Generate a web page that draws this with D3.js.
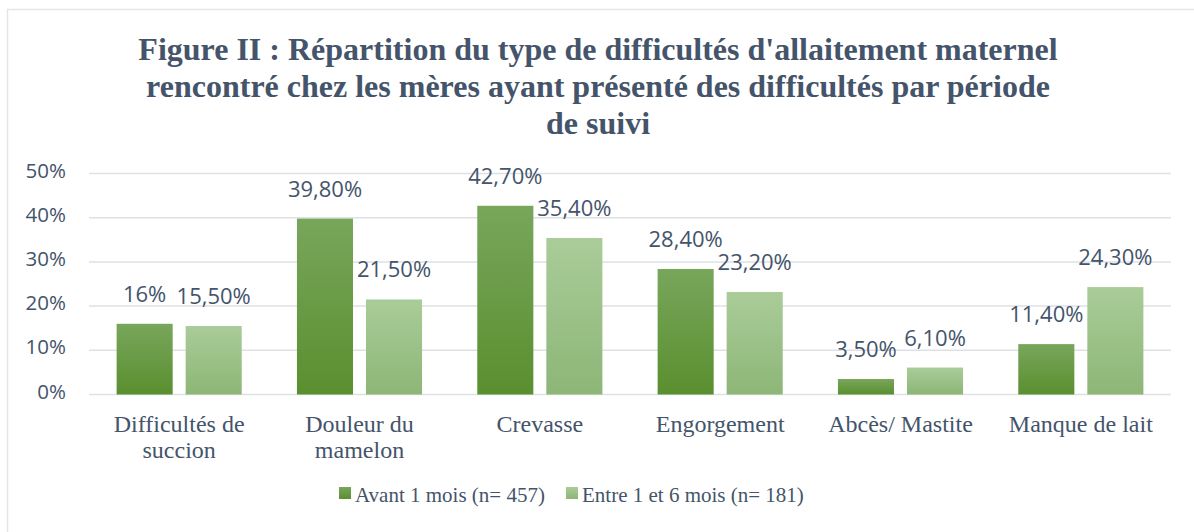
<!DOCTYPE html>
<html>
<head>
<meta charset="utf-8">
<script src="https://cdn.jsdelivr.net/npm/d3@7"></script>
<style>
  body { margin: 0; background: #fff; }
  svg { display: block; }
</style>
</head>
<body>
<svg id="chart"></svg>
<script>
// data
var categories = [["Difficultés de", "succion"], ["Douleur du", "mamelon"], ["Crevasse"], ["Engorgement"], ["Abcès/ Mastite"], ["Manque de lait"]]
var seriesNames = ["Avant 1 mois (n= 457)", "Entre 1 et 6 mois (n= 181)"]
var avant = [16, 39.8, 42.7, 28.4, 3.5, 11.4]
var entre = [15.5, 21.5, 35.4, 23.2, 6.1, 24.3]
var labelsAvant = ["16%", "39,80%", "42,70%", "28,40%", "3,50%", "11,40%"]
var labelsEntre = ["15,50%", "21,50%", "35,40%", "23,20%", "6,10%", "24,30%"]
var yTicks = [0, 10, 20, 30, 40, 50]
var titleLines = ["Figure II : Répartition du type de difficultés d'allaitement maternel",
  "rencontré chez les mères ayant présenté des difficultés par période",
  "de suivi"]

var W = 1194, H = 532
var textColor = "#44546a"
var gridColor = "#dde1e6"

var svg = d3.select("#chart").attr("width", W).attr("height", H)

// gradients per series
var defs = svg.append("defs")
var grads = [
  {id: "g0", top: "#78a65b", bottom: "#5a8f2f"},
  {id: "g1", top: "#aacc99", bottom: "#8db677"}
]
grads.forEach(function(g) {
  var lg = defs.append("linearGradient").attr("id", g.id)
    .attr("x1", 0).attr("y1", 0).attr("x2", 0).attr("y2", 1)
  lg.append("stop").attr("offset", "0%").attr("stop-color", g.top)
  lg.append("stop").attr("offset", "100%").attr("stop-color", g.bottom)
})

// frame
svg.append("rect")
  .attr("x", 7.5).attr("y", 9.5)
  .attr("width", W).attr("height", H)
  .attr("fill", "none")
  .attr("stroke", "#e2e5e9")
  .attr("stroke-width", 1.5)

// title
svg.append("g").selectAll("text")
  .data(titleLines)
  .join("text")
  .attr("x", 598)
  .attr("y", function(d, i) { return 60 + i * 37 })
  .attr("text-anchor", "middle")
  .attr("font-family", "'Liberation Serif', 'Times New Roman', serif")
  .attr("font-weight", "bold")
  .attr("font-size", "32px")
  .attr("fill", textColor)
  .text(function(d) { return d })

// scales
var y = d3.scaleLinear().domain([0, 50]).range([394.5, 173.5])
var x0 = d3.scaleBand().domain(d3.range(categories.length)).range([89, 1171])
var x1 = d3.scaleBand().domain([0, 1]).range([0, x0.bandwidth()])
  .paddingInner(0.188).paddingOuter(0.4)

// grid
svg.append("g").selectAll("line")
  .data(yTicks)
  .join("line")
  .attr("x1", 89).attr("x2", 1171)
  .attr("y1", function(d) { return y(d) })
  .attr("y2", function(d) { return y(d) })
  .attr("stroke", gridColor)
  .attr("stroke-width", 1.5)

// y tick labels
svg.append("g").selectAll("text")
  .data(yTicks)
  .join("text")
  .attr("x", 66)
  .attr("y", function(d) { return y(d) + 4 })
  .attr("text-anchor", "end")
  .attr("font-family", "'Open Sans', sans-serif")
  .attr("font-size", "20.5px")
  .attr("fill", textColor)
  .text(function(d) { return d + "%" })

// bars
var series = [
  {values: avant, labels: labelsAvant, grad: "url(#g0)"},
  {values: entre, labels: labelsEntre, grad: "url(#g1)"}
]

series.forEach(function(s, si) {
  var g = svg.append("g")
  g.selectAll("rect")
    .data(s.values)
    .join("rect")
    .attr("x", function(d, i) { return x0(i) + x1(si) })
    .attr("y", function(d) { return y(d) })
    .attr("width", x1.bandwidth())
    .attr("height", function(d) { return y(0) - y(d) })
    .attr("fill", s.grad)

  g.selectAll("text")
    .data(s.values)
    .join("text")
    .attr("x", function(d, i) { return x0(i) + x1(si) + x1.bandwidth() / 2 })
    .attr("y", function(d) { return y(d) - 22 })
    .attr("text-anchor", "middle")
    .attr("font-family", "'Open Sans', sans-serif")
    .attr("font-size", "22px")
    .attr("fill", textColor)
    .text(function(d, i) { return s.labels[i] })
})

// category labels
var cat = svg.append("g").selectAll("text")
  .data(categories)
  .join("text")
  .attr("x", function(d, i) { return x0(i) + x0.bandwidth() / 2 })
  .attr("y", 432)
  .attr("text-anchor", "middle")
  .attr("font-family", "'Liberation Serif', 'Times New Roman', serif")
  .attr("font-size", "24px")
  .attr("fill", textColor)

cat.selectAll("tspan")
  .data(function(d) { return d })
  .join("tspan")
  .attr("x", function() { return d3.select(this.parentNode).attr("x") })
  .attr("dy", function(d, i) { return i == 0 ? 0 : 26 })
  .text(function(d) { return d })

// legend
var legend = [
  {name: seriesNames[0], x: 339, grad: "url(#g0)"},
  {name: seriesNames[1], x: 566, grad: "url(#g1)"}
]
var lg = svg.append("g").selectAll("g")
  .data(legend)
  .join("g")
lg.append("rect")
  .attr("x", function(d) { return d.x })
  .attr("y", 487)
  .attr("width", 12).attr("height", 12)
  .attr("fill", function(d) { return d.grad })
lg.append("text")
  .attr("x", function(d) { return d.x + 16 })
  .attr("y", 502)
  .attr("font-family", "'Liberation Serif', 'Times New Roman', serif")
  .attr("font-size", "21px")
  .attr("fill", textColor)
  .text(function(d) { return d.name })
</script>
</body>
</html>
